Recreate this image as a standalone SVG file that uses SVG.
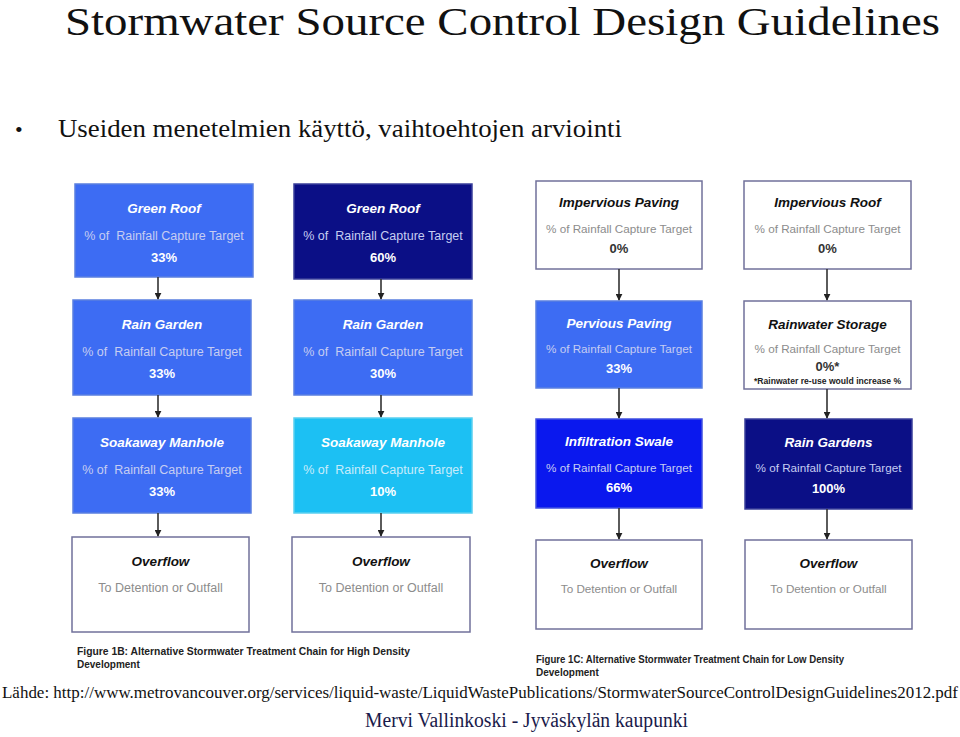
<svg xmlns="http://www.w3.org/2000/svg" width="960" height="737" viewBox="0 0 960 737">
<defs>
<marker id="ah" viewBox="0 0 10 10" refX="9" refY="5" markerWidth="7" markerHeight="7" orient="auto" markerUnits="userSpaceOnUse">
<path d="M0,0 L10,5 L0,10 z" fill="#222"/>
</marker>
<style>
.serif{font-family:"Liberation Serif","DejaVu Serif",serif;fill:#111}
.box{stroke-width:1.5}
.mid{fill:#3d6cf3;stroke:#5a7fe0}
.navy{fill:#0b0f86;stroke:#3a3f9a}
.cyan{fill:#1cc0f3;stroke:#5ad0f0}
.bright{fill:#0a18ee;stroke:#4050e0}
.white{fill:#fff;stroke:#70709a}
.t{font-family:"Liberation Sans",Arial,sans-serif;text-anchor:middle;white-space:pre}
.hd{font-size:13.5px;font-weight:bold;font-style:italic}
.sub{font-size:12.5px}
.sm{font-size:11.7px}
.pc{font-size:13px;font-weight:bold}
.onb .hd,.onb .pc{fill:#fff}
.onb .sub{fill:#c6cdf2}
.onw .hd{fill:#111}
.onw .sub{fill:#8c8c8c}
.onw .pc{fill:#333}
.cap{font-family:"Liberation Sans",Arial,sans-serif;font-size:10px;font-weight:bold;fill:#222}
.conn line{stroke:#333;stroke-width:1.6;marker-end:url(#ah)}
</style>
</defs>
<rect width="960" height="737" fill="#fff"/>
<text class="serif" x="65" y="35" font-size="39" textLength="875" lengthAdjust="spacingAndGlyphs">Stormwater Source Control Design Guidelines</text>
<text class="serif" x="15" y="137" font-size="22">•</text>
<text class="serif" x="58" y="137" font-size="25" textLength="564" lengthAdjust="spacingAndGlyphs">Useiden menetelmien käyttö, vaihtoehtojen arviointi</text>

<g id="A1" class="onb"><rect class="box mid" x="75" y="184" width="178" height="93"/>
<text class="t hd" x="164" y="213">Green Roof</text><text class="t sub" x="164" y="240" xml:space="preserve">% of  Rainfall Capture Target</text><text class="t pc" x="164" y="262">33%</text></g>
<g id="B1" class="onb"><rect class="box navy" x="294" y="184" width="178" height="95"/>
<text class="t hd" x="383" y="213">Green Roof</text><text class="t sub" x="383" y="240" xml:space="preserve">% of  Rainfall Capture Target</text><text class="t pc" x="383" y="262">60%</text></g>
<g id="C1" class="onw"><rect class="box white" x="536" y="181" width="166" height="88"/>
<text class="t hd" x="619" y="207">Impervious Paving</text><text class="t sub sm" x="619" y="233">% of Rainfall Capture Target</text><text class="t pc" x="619" y="253">0%</text></g>
<g id="D1" class="onw"><rect class="box white" x="744" y="181" width="167" height="88"/>
<text class="t hd" x="827.5" y="207">Impervious Roof</text><text class="t sub sm" x="827.5" y="233">% of Rainfall Capture Target</text><text class="t pc" x="827.5" y="253">0%</text></g>

<g id="A2" class="onb"><rect class="box mid" x="73" y="300" width="178" height="95"/>
<text class="t hd" x="162" y="329">Rain Garden</text><text class="t sub" x="162" y="356" xml:space="preserve">% of  Rainfall Capture Target</text><text class="t pc" x="162" y="378">33%</text></g>
<g id="B2" class="onb"><rect class="box mid" x="294" y="300" width="178" height="95"/>
<text class="t hd" x="383" y="329">Rain Garden</text><text class="t sub" x="383" y="356" xml:space="preserve">% of  Rainfall Capture Target</text><text class="t pc" x="383" y="378">30%</text></g>
<g id="C2" class="onb"><rect class="box mid" x="536" y="301" width="166" height="87"/>
<text class="t hd" x="619" y="328">Pervious Paving</text><text class="t sub sm" x="619" y="353">% of Rainfall Capture Target</text><text class="t pc" x="619" y="373">33%</text></g>
<g id="D2" class="onw"><rect class="box white" x="744" y="301" width="167" height="88"/>
<text class="t hd" x="827.5" y="329">Rainwater Storage</text><text class="t sub sm" x="827.5" y="353">% of Rainfall Capture Target</text><text class="t pc" x="827.5" y="371">0%*</text>
<text class="t" x="827.5" y="384" font-size="8.6" font-weight="bold" fill="#222">*Rainwater re-use would increase %</text></g>

<g id="A3" class="onb"><rect class="box mid" x="73" y="418" width="178" height="95"/>
<text class="t hd" x="162" y="447">Soakaway Manhole</text><text class="t sub" x="162" y="474" xml:space="preserve">% of  Rainfall Capture Target</text><text class="t pc" x="162" y="496">33%</text></g>
<g id="B3" class="onb"><rect class="box cyan" x="294" y="418" width="178" height="95"/>
<text class="t hd" x="383" y="447">Soakaway Manhole</text><text class="t sub" x="383" y="474" style="fill:#c8ecfb" xml:space="preserve">% of  Rainfall Capture Target</text><text class="t pc" x="383" y="496">10%</text></g>
<g id="C3" class="onb"><rect class="box bright" x="536" y="419" width="166" height="89"/>
<text class="t hd" x="619" y="446">Infiltration Swale</text><text class="t sub sm" x="619" y="472">% of Rainfall Capture Target</text><text class="t pc" x="619" y="492">66%</text></g>
<g id="D3" class="onb"><rect class="box navy" x="745" y="419" width="167" height="90"/>
<text class="t hd" x="828.5" y="447">Rain Gardens</text><text class="t sub sm" x="828.5" y="472">% of Rainfall Capture Target</text><text class="t pc" x="828.5" y="493">100%</text></g>

<g id="A4" class="onw"><rect class="box white" x="72" y="537" width="177" height="95"/>
<text class="t hd" x="160.5" y="566">Overflow</text><text class="t sub" x="160.5" y="592">To Detention or Outfall</text></g>
<g id="B4" class="onw"><rect class="box white" x="292" y="537" width="178" height="95"/>
<text class="t hd" x="381" y="566">Overflow</text><text class="t sub" x="381" y="592">To Detention or Outfall</text></g>
<g id="C4" class="onw"><rect class="box white" x="536" y="540" width="166" height="89"/>
<text class="t hd" x="619" y="568">Overflow</text><text class="t sub sm" x="619" y="593">To Detention or Outfall</text></g>
<g id="D4" class="onw"><rect class="box white" x="745" y="540" width="167" height="89"/>
<text class="t hd" x="828.5" y="568">Overflow</text><text class="t sub sm" x="828.5" y="593">To Detention or Outfall</text></g>

<g id="connectors" class="conn">
<line x1="158" y1="277" x2="158" y2="299"/>
<line x1="158" y1="395" x2="158" y2="417"/>
<line x1="158" y1="513" x2="158" y2="536"/>
<line x1="381" y1="279" x2="381" y2="299"/>
<line x1="381" y1="395" x2="381" y2="417"/>
<line x1="381" y1="513" x2="381" y2="536"/>
<line x1="619" y1="269" x2="619" y2="300"/>
<line x1="619" y1="388" x2="619" y2="418"/>
<line x1="619" y1="508" x2="619" y2="539"/>
<line x1="827" y1="269" x2="827" y2="300"/>
<line x1="827" y1="389" x2="827" y2="418"/>
<line x1="827" y1="509" x2="827" y2="539"/>
</g>

<text class="cap" x="77" y="655" textLength="333" lengthAdjust="spacingAndGlyphs">Figure 1B: Alternative Stormwater Treatment Chain for High Density</text>
<text class="cap" x="77" y="668">Development</text>
<text class="cap" x="536" y="663" textLength="308" lengthAdjust="spacingAndGlyphs">Figure 1C: Alternative Stormwater Treatment Chain for Low Density</text>
<text class="cap" x="536" y="676">Development</text>

<text class="serif" x="2" y="698" font-size="16.5" textLength="956" lengthAdjust="spacingAndGlyphs">Lähde: http://www.metrovancouver.org/services/liquid-waste/LiquidWastePublications/StormwaterSourceControlDesignGuidelines2012.pdf</text>
<text class="serif" x="365" y="727" font-size="20" textLength="323" lengthAdjust="spacingAndGlyphs" style="fill:#1a1a4a">Mervi Vallinkoski - Jyväskylän kaupunki</text>
</svg>
